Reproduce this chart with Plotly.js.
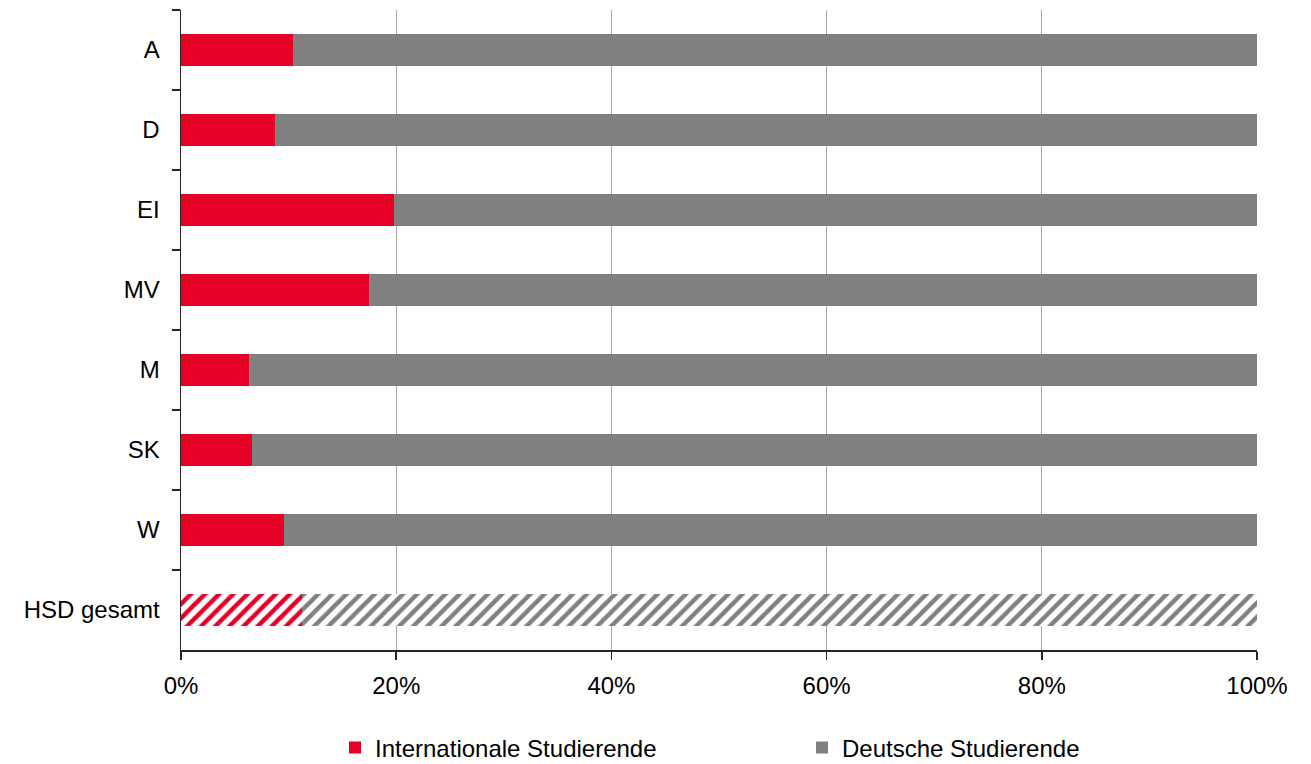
<!DOCTYPE html>
<html><head><meta charset="utf-8">
<script src="https://cdn.plot.ly/plotly-3.0.1.min.js"></script>
<style>html,body{margin:0;padding:0;background:#fff}#chart{width:1311px;height:764px}</style>
</head><body><div id="chart"></div>
<script>
const categories = ["A","D","EI","MV","M","SK","W","HSD gesamt"];
const international = [10.4, 8.7, 19.8, 17.5, 6.3, 6.6, 9.6, 11.2];
const deutsche = international.map(v => 100 - v);
const seriesNames = ["Internationale Studierende","Deutsche Studierende"];
const red = "#E60026", gray = "#808080";
const shapes = categories.map(c => c === "HSD gesamt" ? "/" : "");

function mk(vals, name, color){
  return {
    type:"bar", orientation:"h", y:categories, x:vals, name:name,
    marker:{color:color, line:{width:0},
      pattern:{shape:shapes, fgcolor:color, bgcolor:categories.map(c=> c==="HSD gesamt" ? "#ffffff" : color), size:10, solidity:0.45, fillmode:"replace"}},
    hoverinfo:"x+y"
  };
}
const data = [mk(international, seriesNames[0], red), mk(deutsche, seriesNames[1], gray)];
const layout = {
  width:1311, height:764,
  margin:{l:181, r:54, t:10, b:114, autoexpand:false},
  barmode:"stack", bargap:0.6,
  font:{family:"Liberation Sans, Arial, sans-serif", size:24, color:"#000"},
  paper_bgcolor:"#fff", plot_bgcolor:"#fff",
  xaxis:{range:[0,100], dtick:20, ticksuffix:"%", showgrid:true, gridcolor:"#a6a6a6", gridwidth:1,
    zeroline:false, showline:true, linecolor:"#262626", linewidth:1.5, ticks:"outside", ticklen:8, tickcolor:"#262626", tickwidth:1.5, ticklabelstandoff:6, fixedrange:true},
  yaxis:{autorange:"reversed", showline:true, linecolor:"#262626", linewidth:1.5, ticks:"outside", tickson:"boundaries", ticklen:8,
    tickcolor:"#262626", tickwidth:1.5, showgrid:false, ticklabelstandoff:15},
  showlegend:true,
  legend:{orientation:"h", xref:"container", yref:"container", x:335/1311, xanchor:"left", y:1-748/764, yanchor:"middle", entrywidth:422, font:{size:24}, traceorder:"normal"}
};
Plotly.newPlot("chart", data, layout, {displayModeBar:false, staticPlot:true});
</script></body></html>
